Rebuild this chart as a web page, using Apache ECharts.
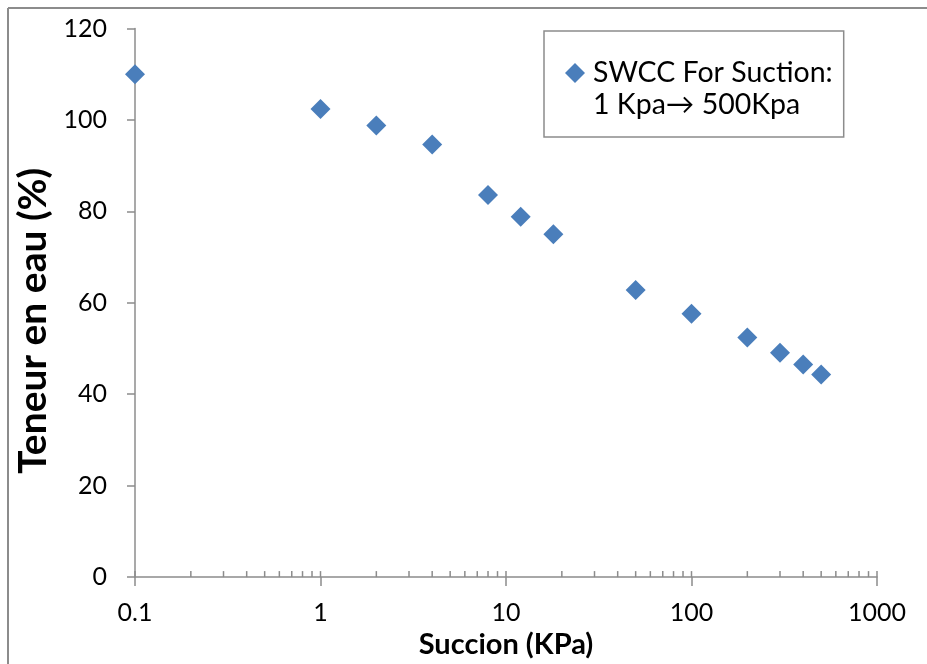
<!DOCTYPE html>
<html>
<head>
<meta charset="utf-8">
<script src="https://cdn.jsdelivr.net/npm/echarts@6/dist/echarts.min.js"></script>
<style>
html,body{margin:0;padding:0;background:#fff;}
#chart{width:927px;height:664px;}
</style>
</head>
<body>
<div id="chart"></div>
<script>
// Data
const suction = [0.1, 1, 2, 4, 8, 12, 18, 50, 100, 200, 300, 400, 500];
const waterContent = [110, 102.4, 98.8, 94.6, 83.6, 78.8, 75.0, 62.8, 57.6, 52.4, 49.1, 46.5, 44.3];
const seriesName = 'SWCC For Suction:\n1 Kpa\u2192 500Kpa';
const xTitle = 'Succion (KPa)';
const yTitle = 'Teneur en eau (%)';
const innerTicks = [0.1,0.2,0.3,0.4,0.5,0.6,0.7,0.8,0.9,1,2,3,4,5,6,7,8,9,10,20,30,40,50,60,70,80,90,100,200,300,400,500,600,700,800,900,1000];

const FONT = 'Lato';
const AXIS_COLOR = '#8c8c8c';
const MARK_COLOR = '#4a7ebb';

const chart = echarts.init(document.getElementById('chart'), null, {renderer: 'canvas'});
chart.setOption({
  animation: false,
  backgroundColor: '#fff',
  textStyle: {fontFamily: FONT},
  graphic: [
    {type: 'line', shape: {x1: 8, y1: 8, x2: 927, y2: 8}, style: {stroke: '#8c8c8c', lineWidth: 2}},
    {type: 'line', shape: {x1: 8, y1: 8, x2: 8, y2: 664}, style: {stroke: '#8c8c8c', lineWidth: 2}}
  ],
  grid: {left: 135, top: 28.5, right: 50, bottom: 83.3, containLabel: false},
  legend: {
    show: true,
    left: 544, top: 31,
    orient: 'vertical',
    padding: [26, 11, 16, 21],
    borderColor: '#8c8c8c', borderWidth: 1.5,
    backgroundColor: '#fff',
    itemWidth: 20, itemHeight: 64,
    icon: 'path://M10,6L20,16L10,26L0,16Z M0,0L0,0 M20,64L20,64',
    textStyle: {fontFamily: FONT, fontSize: 28.5, color: '#000', lineHeight: 32, padding: [0, 0, 0, 3]},
    data: [seriesName]
  },
  xAxis: {
    type: 'log', logBase: 10, min: 0.1, max: 1000,
    name: xTitle, nameLocation: 'middle', nameGap: 43,
    nameTextStyle: {fontFamily: FONT, fontSize: 29, fontWeight: 'bold', color: '#000'},
    axisLine: {show: true, lineStyle: {color: AXIS_COLOR, width: 1.5}},
    axisTick: {show: true, inside: false, length: 9, lineStyle: {color: AXIS_COLOR, width: 1.5}},
    minorTick: {show: false},
    splitLine: {show: false},
    axisLabel: {fontFamily: FONT, fontSize: 25, color: '#000', margin: 23,
      formatter: function (v) { return String(v); }}
  },
  yAxis: {
    type: 'value', min: 0, max: 120, interval: 20,
    name: yTitle, nameLocation: 'middle', nameGap: 73, nameRotate: 90,
    nameTextStyle: {fontFamily: FONT, fontSize: 39, fontWeight: 'bold', color: '#000', padding: [0, 36, 0, 0]},
    axisLine: {show: true, lineStyle: {color: AXIS_COLOR, width: 1.5}},
    axisTick: {show: true, inside: false, length: 8, lineStyle: {color: AXIS_COLOR, width: 1.5}},
    splitLine: {show: false},
    axisLabel: {fontFamily: FONT, fontSize: 25, color: '#000', margin: 28}
  },
  series: [
    {
      name: seriesName,
      type: 'scatter',
      symbol: 'diamond',
      symbolSize: 20,
      itemStyle: {color: MARK_COLOR, opacity: 1},
      data: suction.map((x, i) => [x, waterContent[i]]),
      z: 3
    },
    {
      name: 'ticks',
      type: 'custom',
      silent: true,
      clip: false,
      data: innerTicks.map(v => [v, 0]),
      renderItem: function (params, api) {
        const p = api.coord([api.value(0), 0]);
        return {
          type: 'line',
          shape: {x1: p[0], y1: p[1], x2: p[0], y2: p[1] - 6},
          style: {stroke: AXIS_COLOR, lineWidth: 1.5}
        };
      },
      z: 1
    }
  ]
});
</script>
</body>
</html>
